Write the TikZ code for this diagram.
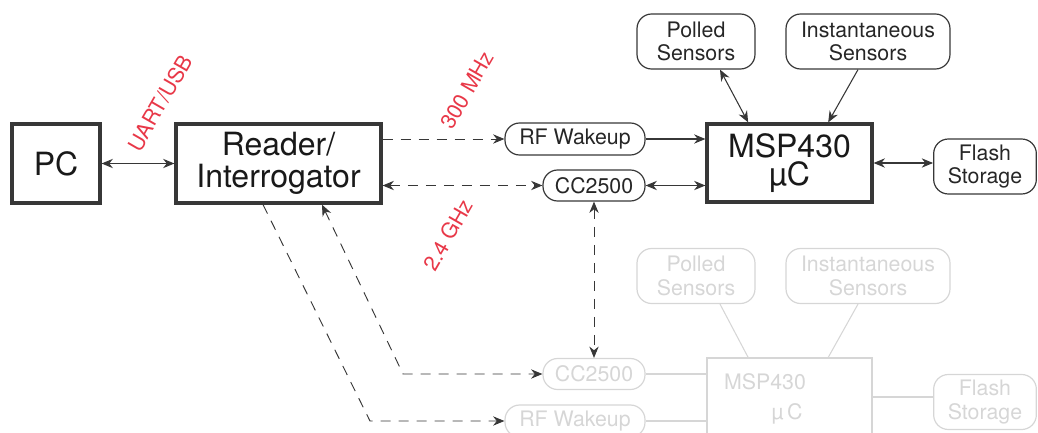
\documentclass[tikz,border=0pt]{standalone}
\usepackage{fontspec}
\setmainfont{TeX Gyre Heros}
\usetikzlibrary{arrows.meta}
\definecolor{linkred}{RGB}{232,56,72}
\definecolor{boxline}{RGB}{55,55,55}
\definecolor{ghost}{RGB}{214,214,214}

\begin{document}
\begin{tikzpicture}[x=0.75pt,y=-0.75pt,
	bigbox/.style={draw=boxline, line width=2.4pt, inner sep=1pt, align=center, font=\fontsize{24}{24}\selectfont, text=black!90},
	pill/.style={draw=boxline, line width=0.9pt, rounded corners=11pt, inner sep=1pt, align=center, font=\fontsize{16}{17.5}\selectfont, text=black!85},
	ghostpill/.style={pill, draw=ghost, text=ghost},
	link/.style={draw=boxline, line width=0.8pt},
	dlink/.style={link, line width=0.7pt, dash pattern=on 7.5pt off 6pt},
	ghostlink/.style={draw=ghost, line width=0.8pt},
	tag/.style={text=linkred, rotate=60, font=\fontsize{16}{16}\selectfont},
	>={Stealth[length=8.5pt,width=7pt]}]
		\clip (0,0) rectangle (1038,432);
		
		% top node
		\node[bigbox, minimum width=66pt, minimum height=59.25pt] (pc) at (56,163.5) {PC};
		\node[bigbox, minimum width=153.75pt, minimum height=59.25pt] (reader) at (278.5,163.5) {Reader/\\Interrogator};
		\node[bigbox, minimum width=123.75pt, minimum height=58.5pt, font=\fontsize{24}{21}\selectfont] (msp) at (789.5,163) {MSP430\\µC};
		\node[pill, minimum width=105pt, minimum height=24pt] (rfw) at (575,139) {RF Wakeup};
		\node[pill, minimum width=76.5pt, minimum height=23.25pt] (cc) at (594,185.5) {CC2500};
		\node[pill, minimum width=88.5pt, minimum height=41.25pt] (polled) at (696,41.5) {Polled\\Sensors};
		\node[pill, minimum width=123pt, minimum height=41.25pt] (inst) at (868,41.5) {Instantaneous\\Sensors};
		\node[pill, minimum width=77pt, minimum height=41.25pt] (flash) at (985,166.5) {Flash\\Storage};
		
		% second node, greyed out
		\node[ghostpill, minimum width=88.5pt, minimum height=41.25pt] (polled2) at (696,276) {Polled\\Sensors};
		\node[ghostpill, minimum width=123pt, minimum height=41.25pt] (inst2) at (868,276) {Instantaneous\\Sensors};
		\node[draw=ghost, line width=0.8pt, minimum width=123.75pt, minimum height=58.5pt] (msp2) at (789.5,397) {};
		\node[text=ghost, font=\fontsize{16}{16}\selectfont] (msptext2) at (765,382) {MSP430};
		\node[text=ghost, font=\fontsize{16}{16}\selectfont] (mutext2) at (787,414) {µ\,C};
		\node[ghostpill, minimum width=76.5pt, minimum height=23.25pt] (cc2) at (594,374) {CC2500};
		\node[ghostpill, minimum width=105pt, minimum height=24pt] (rfw2) at (575,421) {RF Wakeup};
		\node[ghostpill, minimum width=77pt, minimum height=41.25pt] (flash2) at (985,402) {Flash\\Storage};
		
		\draw[link, <->] (pc.east) -- (reader.west);
		\draw[dlink, ->] (reader.east |- rfw.west) -- (rfw.west);
		\draw[dlink, <->] (reader.east |- cc.west) -- (cc.west);
		\draw[link, ->] (rfw.east) -- (msp.west |- rfw.east);
		\draw[link, <->] (cc.east) -- (msp.west |- cc.east);
		\draw[link, <->] ([xshift=18pt]polled.south) -- ([xshift=-31pt]msp.north);
		\draw[link, ->] ([xshift=-7.5pt]inst.south) -- ([xshift=29pt]msp.north);
		\draw[link, <->] (msp.east) -- (flash.west |- msp.east);
		\draw[dlink, <->] (cc.south) -- (cc2.north);
		\draw[dlink, ->] ([xshift=-11.6pt]reader.south) -- (370,421) -- (rfw2.west);
		\draw[dlink, <->] ([xshift=32.6pt]reader.south) -- (403,374) -- (cc2.west);
		
		\draw[ghostlink] (cc2.east) -- (msp2.west |- cc2.east);
		\draw[ghostlink] (rfw2.east) -- (msp2.west |- rfw2.east);
		\draw[ghostlink] ([xshift=18pt]polled2.south) -- ([xshift=-31pt]msp2.north);
		\draw[ghostlink] ([xshift=-7.5pt]inst2.south) -- ([xshift=29pt]msp2.north);
		\draw[ghostlink] (msp2.east) -- (flash2.west |- msp2.east);
		
		% link labels
		\node[tag] (uart) at (160,103) {UART/USB};
		\node[tag] (mhz) at (467,90) {300 MHz};
		\node[tag] (ghz) at (448,235) {2.4 GHz};
	\end{tikzpicture}
\end{document}
